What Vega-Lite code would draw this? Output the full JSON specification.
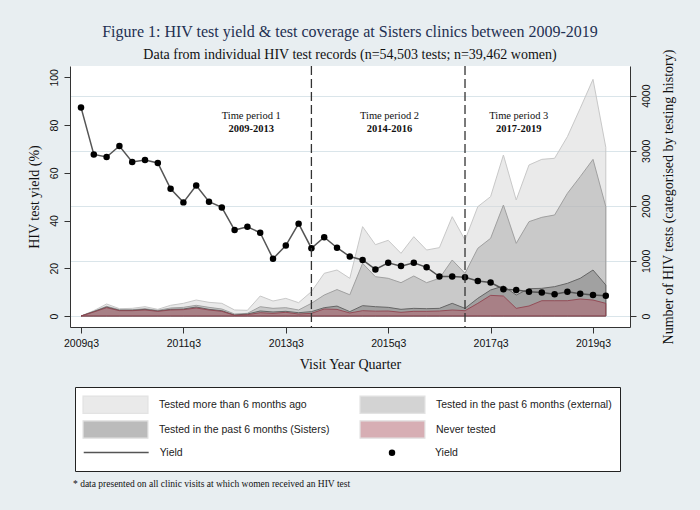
{
  "$schema": "https://vega.github.io/schema/vega-lite/v6.json",
  "width": 560,
  "height": 261,
  "autosize": {"type": "none"},
  "padding": {"left": 70, "top": 66, "right": 70, "bottom": 183},
  "background": "#e8eef1",
  "config": {
    "view": {"fill": "white", "stroke": null},
    "font": "Liberation Serif",
    "legend": {
      "labelFont": "Liberation Sans", "labelFontSize": 10.5, "labelColor": "#222222", "labelLimit": 400
    }
  },
  "title": {
    "text": "Figure 1: HIV test yield & test coverage at Sisters clinics between 2009-2019",
    "subtitle": "Data from individual HIV test records (n=54,503 tests; n=39,462 women)",
    "font": "Liberation Serif", "fontSize": 16, "fontWeight": "normal", "color": "#1f3052",
    "subtitleFont": "Liberation Serif", "subtitleFontSize": 14, "subtitleColor": "#111111",
    "subtitlePadding": 8, "anchor": "middle", "frame": "group", "offset": -13
  },
  "datasets": {
    "q": [
      {"q":0,"yield":87.4,"never":0,"sisters":0,"external":0,"total":0},
      {"q":1,"yield":67.7,"never":73,"sisters":80,"external":85,"total":97},
      {"q":2,"yield":66.6,"never":151,"sisters":163,"external":176,"total":218},
      {"q":3,"yield":71.2,"never":97,"sisters":103,"external":115,"total":133},
      {"q":4,"yield":64.5,"never":97,"sisters":103,"external":115,"total":139},
      {"q":5,"yield":65.4,"never":109,"sisters":121,"external":133,"total":169},
      {"q":6,"yield":64.1,"never":85,"sisters":91,"external":103,"total":121},
      {"q":7,"yield":53.3,"never":109,"sisters":121,"external":145,"total":194},
      {"q":8,"yield":47.6,"never":115,"sisters":127,"external":157,"total":230},
      {"q":9,"yield":54.7,"never":145,"sisters":163,"external":194,"total":290},
      {"q":10,"yield":47.9,"never":109,"sisters":121,"external":157,"total":248},
      {"q":11,"yield":45.5,"never":85,"sisters":97,"external":127,"total":230},
      {"q":12,"yield":36.0,"never":12,"sisters":18,"external":36,"total":109},
      {"q":13,"yield":37.4,"never":24,"sisters":36,"external":48,"total":103},
      {"q":14,"yield":34.9,"never":60,"sisters":91,"external":169,"total":363},
      {"q":15,"yield":24.0,"never":48,"sisters":73,"external":139,"total":272},
      {"q":16,"yield":29.5,"never":67,"sisters":85,"external":151,"total":320},
      {"q":17,"yield":38.7,"never":36,"sisters":60,"external":109,"total":242},
      {"q":18,"yield":28.4,"never":48,"sisters":79,"external":230,"total":442},
      {"q":19,"yield":33.0,"never":127,"sisters":151,"external":381,"total":775},
      {"q":20,"yield":28.6,"never":120,"sisters":180,"external":480,"total":835},
      {"q":21,"yield":24.9,"never":55,"sisters":79,"external":385,"total":684},
      {"q":22,"yield":23.5,"never":97,"sisters":188,"external":956,"total":1622},
      {"q":23,"yield":19.5,"never":88,"sisters":169,"external":714,"total":1295},
      {"q":24,"yield":22.3,"never":91,"sisters":157,"external":684,"total":1374},
      {"q":25,"yield":20.9,"never":67,"sisters":121,"external":605,"total":1138},
      {"q":26,"yield":22.3,"never":85,"sisters":139,"external":726,"total":1440},
      {"q":27,"yield":20.4,"never":85,"sisters":133,"external":605,"total":1198},
      {"q":28,"yield":16.5,"never":91,"sisters":139,"external":684,"total":1241},
      {"q":29,"yield":16.5,"never":109,"sisters":230,"external":1017,"total":1803},
      {"q":30,"yield":16.2,"never":97,"sisters":139,"external":775,"total":1380},
      {"q":31,"yield":14.7,"never":230,"sisters":321,"external":1229,"total":1985},
      {"q":32,"yield":14.0,"never":375,"sisters":472,"external":1410,"total":2167},
      {"q":33,"yield":11.2,"never":363,"sisters":545,"external":2015,"total":2923},
      {"q":34,"yield":10.9,"never":139,"sisters":381,"external":1319,"total":2106},
      {"q":35,"yield":10.2,"never":182,"sisters":496,"external":1713,"total":2742},
      {"q":36,"yield":9.8,"never":278,"sisters":502,"external":1791,"total":2844},
      {"q":37,"yield":9.1,"never":278,"sisters":533,"external":1834,"total":2863},
      {"q":38,"yield":10.2,"never":278,"sisters":593,"external":2227,"total":3256},
      {"q":39,"yield":9.3,"never":309,"sisters":684,"external":2530,"total":3770},
      {"q":40,"yield":8.8,"never":290,"sisters":835,"external":2844,"total":4297},
      {"q":41,"yield":8.5,"never":230,"sisters":563,"external":1985,"total":3062}
    ],
    "periods": [
      {"q": 13.3, "period": "Time period 1", "years": "2009-2013"},
      {"q": 24.1, "period": "Time period 2", "years": "2014-2016"},
      {"q": 34.2, "period": "Time period 3", "years": "2017-2019"}
    ],
    "cuts": [{"q": 18}, {"q": 30}]
  },
  "layer": [
    {
      "data": {"name": "q"},
      "layer": [
        {
          "mark": {"type": "area", "fillOpacity": 0.5, "stroke": "#c8c8c8", "strokeWidth": 1},
          "encoding": {
            "x": {"field": "q", "type": "quantitative",
              "scale": {"domain": [-0.86, 42.89], "nice": false, "zero": false},
              "axis": {"title": "Visit Year Quarter", "values": [0, 8, 16, 24, 32, 40],
                "labelExpr": "(2009 + floor((datum.value + 2) / 4)) + 'q' + ((datum.value + 2) % 4 + 1)",
                "grid": false, "domainColor": "#333333", "tickColor": "#333333", "tickSize": 6,
                "labelFont": "Liberation Sans", "labelFontSize": 10.5, "labelColor": "#111111", "labelPadding": 5,
                "titleFont": "Liberation Serif", "titleFontSize": 14, "titleFontWeight": "normal", "titleColor": "#111111", "titlePadding": 9}},
            "y": {"field": "total", "type": "quantitative", "stack": null,
              "scale": {"domain": [-199.7, 4539], "nice": false, "zero": false},
              "axis": {"orient": "right", "title": "Number of HIV tests (categorised by testing history)",
                "values": [0, 1000, 2000, 3000, 4000], "format": "d", "grid": true, "gridColor": "#dae5ea", "gridWidth": 1,
                "domainColor": "#333333", "tickColor": "#333333", "tickSize": 6,
                "labelAngle": 270, "labelAlign": "center", "labelBaseline": "top", "labelPadding": 5,
                "labelFont": "Liberation Sans", "labelFontSize": 10.5, "labelColor": "#111111",
                "titleAngle": 270, "titleBaseline": "top", "titleFont": "Liberation Serif", "titleFontSize": 14,
                "titleFontWeight": "normal", "titleColor": "#111111", "titlePadding": 10}},
            "color": {"datum": "Tested more than 6 months ago", "type": "nominal",
              "scale": {
                "domain": ["Tested more than 6 months ago", "Tested in the past 6 months (external)", "Tested in the past 6 months (Sisters)", "Never tested"],
                "range": ["#d6d6d6", "#a8a8a8", "#7a7a7a", "#b0606c"]
              },
              "legend": {
                "orient": "none", "legendX": 5, "legendY": 321, "columns": 2, "direction": "horizontal",
                "title": " ", "titleOrient": "bottom", "titleFontSize": 18, "titlePadding": 4,
                "padding": 8, "strokeColor": "#222222", "fillColor": "#ffffff", "cornerRadius": 0,
                "labelOffset": 34, "rowPadding": 2, "columnPadding": 27,
                "symbolSize": 289, "symbolStrokeWidth": 1.2, "symbolOffset": 23, "symbolOpacity": 0.5,
                "symbolType": "M-3.82,-1.02H3.82V1.02H-3.82Z"
              }
            }
          }
        },
        {
          "mark": {"type": "area", "fillOpacity": 0.5, "stroke": "#a0a0a0", "strokeWidth": 1},
          "encoding": {
            "x": {"field": "q", "type": "quantitative"},
            "y": {"field": "external", "type": "quantitative", "stack": null},
            "color": {"datum": "Tested in the past 6 months (external)", "type": "nominal"}
          }
        },
        {
          "mark": {"type": "area", "fillOpacity": 0.5, "stroke": "#666666", "strokeWidth": 1},
          "encoding": {
            "x": {"field": "q", "type": "quantitative"},
            "y": {"field": "sisters", "type": "quantitative", "stack": null},
            "color": {"datum": "Tested in the past 6 months (Sisters)", "type": "nominal"}
          }
        },
        {
          "mark": {"type": "area", "fillOpacity": 0.5, "stroke": "#8e3c48", "strokeOpacity": 0.8, "strokeWidth": 1},
          "encoding": {
            "x": {"field": "q", "type": "quantitative"},
            "y": {"field": "never", "type": "quantitative", "stack": null},
            "color": {"datum": "Never tested", "type": "nominal"}
          }
        }
      ]
    },
    {
      "layer": [
        {
          "data": {"name": "q"},
          "mark": {"type": "line", "color": "#555555", "strokeWidth": 1.5},
          "encoding": {
            "x": {"field": "q", "type": "quantitative"},
            "y": {"field": "yield", "type": "quantitative",
              "scale": {"domain": [-4.61, 104.74], "nice": false, "zero": false},
              "axis": {"orient": "left", "title": "HIV test yield (%)", "values": [0, 20, 40, 60, 80, 100], "grid": false,
                "domainColor": "#333333", "tickColor": "#333333", "tickSize": 6,
                "labelAngle": 270, "labelAlign": "center", "labelBaseline": "bottom", "labelPadding": 5,
                "labelFont": "Liberation Sans", "labelFontSize": 10.5, "labelColor": "#111111",
                "titleFont": "Liberation Serif", "titleFontSize": 14, "titleFontWeight": "normal", "titleColor": "#111111", "titlePadding": 8}},
            "opacity": {"datum": "Yield", "type": "ordinal", "scale": {"range": [1]},
              "legend": {"orient": "none", "legendX": 13.7, "legendY": 377, "title": null, "padding": 0,
                "symbolType": "M-3.82,0H3.82", "symbolSize": 289, "symbolOffset": 23, "labelOffset": 34,
                "symbolStrokeColor": "#555555", "symbolStrokeWidth": 1.5, "symbolFillColor": "transparent"}}
          }
        },
        {
          "data": {"name": "q"},
          "mark": {"type": "point", "filled": true, "size": 42, "opacity": 1, "color": "#000000"},
          "encoding": {
            "x": {"field": "q", "type": "quantitative"},
            "y": {"field": "yield", "type": "quantitative"},
            "shape": {"datum": "Yield ", "type": "nominal", "scale": {"range": ["circle"]},
              "legend": {"orient": "none", "legendX": 316.75, "legendY": 381.5, "title": null, "padding": 0,
                "symbolSize": 42, "symbolFillColor": "#000000", "symbolStrokeColor": "#000000", "symbolStrokeWidth": 0,
                "symbolOffset": 0, "labelOffset": 37.75}}
          }
        },
        {
          "data": {"name": "cuts"},
          "mark": {"type": "rule", "color": "#333333", "strokeWidth": 1.3},
          "encoding": {
            "x": {"field": "q", "type": "quantitative"},
            "strokeDash": {"datum": "period", "type": "nominal", "scale": {"range": [[9, 4]]},
              "legend": {"orient": "none", "legendX": 3, "legendY": 413,
                "title": "* data presented on all clinic visits at which women received an HIV test",
                "titleFont": "Liberation Serif", "titleFontSize": 9.5, "titleFontWeight": "normal", "titleColor": "#111111",
                "titleLimit": 600, "titlePadding": 0, "padding": 0,
                "symbolOpacity": 0, "labelOpacity": 0, "labelFontSize": 2, "symbolSize": 0}}
          }
        },
        {
          "data": {"name": "periods"},
          "mark": {"type": "text", "font": "Liberation Serif", "fontSize": 10.5, "color": "#111111"},
          "encoding": {
            "x": {"field": "q", "type": "quantitative"},
            "y": {"datum": 83.8, "type": "quantitative"},
            "text": {"field": "period"}
          }
        },
        {
          "data": {"name": "periods"},
          "mark": {"type": "text", "font": "Liberation Serif", "fontSize": 10.5, "fontWeight": "bold", "color": "#111111"},
          "encoding": {
            "x": {"field": "q", "type": "quantitative"},
            "y": {"datum": 78.2, "type": "quantitative"},
            "text": {"field": "years"}
          }
        }
      ]
    }
  ],
  "resolve": {"scale": {"y": "independent"}}
}
